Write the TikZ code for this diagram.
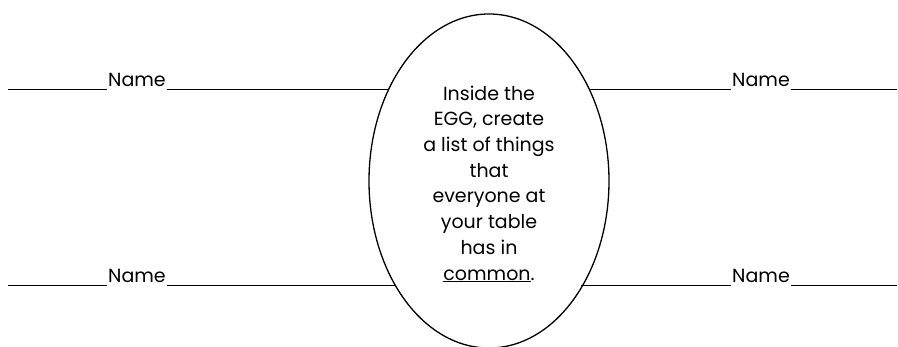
\documentclass[tikz,border=0pt]{standalone}
\usepackage{fontspec}
\setmainfont{Poppins}
\usetikzlibrary{shapes}

\begin{document}
\begin{tikzpicture}[x=1pt, y=-1pt]
\tikzstyle{eggshape}=[ellipse, draw=black, line width=1.3pt, minimum width=240pt, minimum height=334pt, inner sep=0pt, outer sep=0pt]
\tikzstyle{eggtext}=[align=center, inner sep=0pt, font=\fontsize{19}{25.7}\selectfont]
\tikzstyle{namestyle}=[anchor=base, inner xsep=1.5pt, inner ysep=0pt, outer sep=0pt, font=\fontsize{19}{24}\selectfont]
\tikzstyle{drawstyle}=[line width=1pt]
\useasboundingbox (0,0) rectangle (898,347);

\node[eggshape] (E0) at (489,181) {};
\node[eggtext] (E1) at (489,184) {Inside the\\EGG, create\\a list of things\\that\\everyone at\\your table\\has in\\\underline{common}.};

\coordinate (L0x0) at (8,90);
\node[namestyle] (N0x0) at (137,87) {Name};
\draw[drawstyle] (L0x0) -- (N0x0.west |- L0x0);
\draw[drawstyle] (N0x0.east |- L0x0) -- (E0.137.8 |- L0x0);
\coordinate (L0x1) at (8,286);
\node[namestyle] (N0x1) at (137,283) {Name};
\draw[drawstyle] (L0x1) -- (N0x1.west |- L0x1);
\draw[drawstyle] (N0x1.east |- L0x1) -- (E0.228.5 |- L0x1);

\coordinate (L1x0) at (897,90);
\node[namestyle] (N1x0) at (761,87) {Name};
\draw[drawstyle] (E0.42.0 |- L1x0) -- (N1x0.west |- L1x0);
\draw[drawstyle] (N1x0.east |- L1x0) -- (L1x0);
\coordinate (L1x1) at (897,286);
\node[namestyle] (N1x1) at (761,283) {Name};
\draw[drawstyle] (E0.311.5 |- L1x1) -- (N1x1.west |- L1x1);
\draw[drawstyle] (N1x1.east |- L1x1) -- (L1x1);
\end{tikzpicture}
\end{document}
